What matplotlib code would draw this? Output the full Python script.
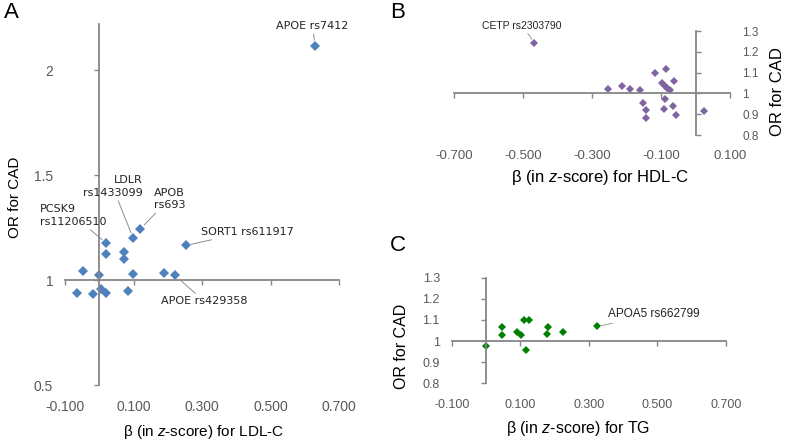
import matplotlib
matplotlib.use('Agg')
import matplotlib.pyplot as plt

plt.rcParams['font.family'] = 'Liberation Sans'
plt.rcParams['mathtext.fontset'] = 'custom'
plt.rcParams['mathtext.it'] = 'Liberation Sans:italic'
plt.rcParams['mathtext.rm'] = 'Liberation Sans'

# panel A: LDL-C
ldl_beta = [0.63, 0.12, 0.099, 0.021, 0.253, 0.021, 0.073, 0.073, -0.047, -0.001,
            0.099, 0.188, 0.221, 0.006, 0.085, -0.064, -0.019, 0.021]
ldl_or = [2.116, 1.244, 1.20, 1.176, 1.165, 1.124, 1.132, 1.10, 1.041, 1.025,
          1.03, 1.035, 1.022, 0.959, 0.946, 0.94, 0.932, 0.937]
ldl_names = {0: 'APOE rs7412', 2: 'LDLR\nrs1433099', 1: 'APOB\nrs693',
             3: 'PCSK9\nrs11206510', 4: 'SORT1 rs611917', 12: 'APOE rs429358'}

# panel B: HDL-C
hdl_beta = [-0.468, -0.255, -0.213, -0.190, -0.161, -0.152, -0.145, -0.145, -0.117, -0.085,
            -0.097, -0.088, -0.082, -0.073, -0.088, -0.092, -0.062, -0.064, -0.058, 0.026]
hdl_or = [1.244, 1.023, 1.034, 1.023, 1.018, 0.956, 0.921, 0.882, 1.10, 1.119,
          1.052, 1.035, 1.027, 1.018, 0.971, 0.923, 1.06, 0.939, 0.897, 0.913]
hdl_names = {0: 'CETP rs2303790'}

# panel C: TG
tg_beta = [0.0, 0.048, 0.046, 0.091, 0.103, 0.111, 0.126, 0.118, 0.180, 0.178, 0.224, 0.324]
tg_or = [0.978, 1.066, 1.027, 1.044, 1.031, 1.10, 1.098, 0.957, 1.066, 1.035, 1.044, 1.069]
tg_names = {11: 'APOA5 rs662799'}

xticks_pos = [-0.1, 0.1, 0.3, 0.5, 0.7]
xticks_hdl = [-0.7, -0.5, -0.3, -0.1, 0.1]
yticks_a = [0.5, 1, 1.5, 2]
yticks_a_lab = ['0.5', '1', '1.5', '2']
yticks_bc = [0.8, 0.9, 1.0, 1.1, 1.2, 1.3]
yticks_bc_lab = ['0.8', '0.9', '1', '1.1', '1.2', '1.3']

axis_grey = '#868686'
label_grey = '#595959'
lead_grey = '#8c8c8c'


def style_axes(ax, xlim, ylim, xticks, yticks, ylabs, y_side='left', xfs=10, yfs=10, ypad=8.5):
    ax.set_xlim(xlim)
    ax.set_ylim(ylim)
    ax.patch.set_visible(False)
    ax.spines['top'].set_visible(False)
    ax.spines['right'].set_visible(False)
    ax.spines['left'].set_position(('data', 0))
    ax.spines['bottom'].set_position(('data', 1))
    for s in ['left', 'bottom']:
        ax.spines[s].set_color(axis_grey)
        ax.spines[s].set_linewidth(1.3)
    ax.set_xticks(xticks)
    ax.set_yticks(yticks)
    ax.tick_params(labelbottom=False, labelleft=False, color=axis_grey, length=3.5, width=1)
    ax.tick_params(axis='y', direction='in' if y_side == 'right' else 'out')
    secx = ax.secondary_xaxis('bottom')
    secx.set_xticks(xticks, labels=['%.3f' % t for t in xticks])
    secx.tick_params(length=0, pad=11, labelsize=xfs, labelcolor=label_grey)
    secy = ax.secondary_yaxis(y_side)
    secy.set_yticks(yticks, labels=ylabs)
    secy.tick_params(length=0, pad=ypad, labelsize=yfs, labelcolor=label_grey)
    for sec in (secx, secy):
        for s in sec.spines.values():
            s.set_visible(False)


fig = plt.figure(figsize=(7.87, 4.44), dpi=100)

# ---- A
axA = fig.add_axes([65/787, 1-385/444, 274/787, 361/444])
style_axes(axA, (-0.1, 0.7), (0.5, 2.22), xticks_pos, yticks_a, yticks_a_lab)
axA.plot(ldl_beta, ldl_or, 'D', color='#4f81bd', ms=4.9, mew=0, clip_on=False)
textpos_a = {0: ((0.623, 2.21), 'center'), 2: ((0.126, 1.445), 'right'),
             1: ((0.159, 1.386), 'left'), 3: ((-0.173, 1.307), 'left'),
             4: ((0.296, 1.229), 'left'), 12: ((0.18, 0.90), 'left')}
for i, name in ldl_names.items():
    pos, ha = textpos_a[i]
    axA.annotate(name, (ldl_beta[i], ldl_or[i]), xytext=pos, ha=ha, va='center',
                 multialignment=ha, linespacing=1.35, fontsize=8, family='DejaVu Sans',
                 color='#222222', annotation_clip=False,
                 arrowprops=dict(arrowstyle='-', color=lead_grey, lw=0.7,
                                 shrinkA=0, shrinkB=4))

# ---- B
axB = fig.add_axes([454.3/787, 1-135/444, 275.7/787, 104/444])
style_axes(axB, (-0.7, 0.1), (0.8, 1.3), xticks_hdl, yticks_bc, yticks_bc_lab,
           y_side='right', xfs=9.5, yfs=8.5, ypad=9)
axB.plot(hdl_beta, hdl_or, 'D', color='#8064a2', ms=4.2, mew=0, clip_on=False)
for i, name in hdl_names.items():
    axB.annotate(name, (hdl_beta[i], hdl_or[i]), xytext=(-0.503, 1.326), ha='center',
                 va='center', fontsize=7.5, color='#222222', annotation_clip=False,
                 arrowprops=dict(arrowstyle='-', color=lead_grey, lw=0.6,
                                 shrinkA=0, shrinkB=3))

# ---- C
axC = fig.add_axes([451.7/787, 1-383.3/444, 274.3/787, 105.6/444])
style_axes(axC, (-0.1, 0.7), (0.8, 1.3), xticks_pos, yticks_bc, yticks_bc_lab,
           xfs=9, yfs=9, ypad=8.5)
axC.plot(tg_beta, tg_or, 'D', color='#008000', ms=4.3, mew=0, clip_on=False)
for i, name in tg_names.items():
    axC.annotate(name, (tg_beta[i], tg_or[i]), xytext=(0.357, 1.126), ha='left',
                 va='center', fontsize=8.5, color='#222222', annotation_clip=False,
                 arrowprops=dict(arrowstyle='-', color=lead_grey, lw=0.6,
                                 shrinkA=0, shrinkB=3))

# axis labels and panel letters
fig.text(15/787, 1-197/444, 'OR for CAD', rotation=90, ha='center', va='center', fontsize=11)
fig.text(203/787, 1-432/444, r'β (in $z$-score) for LDL-C', ha='center', va='center', fontsize=11)
fig.text(778/787, 1-92/444, 'OR for CAD', rotation=90, ha='center', va='center', fontsize=12)
fig.text(600/787, 1-177/444, r'β (in $z$-score) for HDL-C', ha='center', va='center', fontsize=12)
fig.text(401.7/787, 1-346.7/444, 'OR for CAD', rotation=90, ha='center', va='center', fontsize=11.5)
fig.text(578/787, 1-428/444, r'β (in $z$-score) for TG', ha='center', va='center', fontsize=11.5)
fig.text(11/787, 1-13/444, 'A', ha='center', va='center', fontsize=16)
fig.text(398/787, 1-13/444, 'B', ha='center', va='center', fontsize=16)
fig.text(398/787, 1-245/444, 'C', ha='center', va='center', fontsize=16)

fig.savefig('out.png', dpi=100)
